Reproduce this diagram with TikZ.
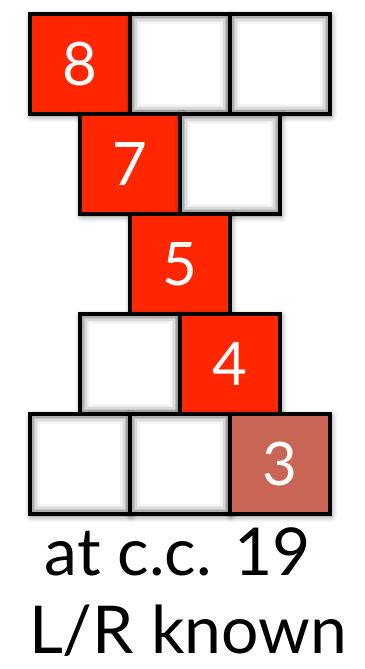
\documentclass[tikz,border=0pt]{standalone}
\usepackage{fontspec}
\setmainfont{Lato}
\usetikzlibrary{shadows.blur}
\definecolor{hotred}{RGB}{255,38,0}
\definecolor{dimred}{RGB}{200,101,85}
\tikzset{
  cell/.style={draw=black, line width=4.5pt, minimum width=100pt, minimum height=100pt,
    inner sep=0pt, outer sep=0pt, text=white, font=\fontsize{60}{60}\selectfont,
    blur shadow={shadow xshift=1pt, shadow yshift=-2pt, shadow blur radius=6pt, shadow opacity=55}},
  redcell/.style={cell, fill=hotred},
  dimcell/.style={cell, fill=dimred},
  blankcell/.style={cell, fill=white,
    path picture={
      \foreach \d/\c in {3/32,4.5/22,6/14,7.5/8,9/4}{
        \draw[black!\c, line width=1.6pt]
          ([shift={(\d pt,\d pt)}]path picture bounding box.south west) rectangle
          ([shift={(-\d pt,-\d pt)}]path picture bounding box.north east);}
    }},
  caption/.style={anchor=base, font=\fontsize{66}{66}\selectfont, inner sep=0pt}
}
\begin{document}
\begin{tikzpicture}[x=1pt,y=1pt]
\useasboundingbox (0,0) rectangle (364,-669);
% row 1
\node[redcell]   (r1a) at (80,-64)  {8};
\node[blankcell] (r1b) at (180,-64) {};
\node[blankcell] (r1c) at (280,-64) {};
% row 2
\node[redcell]   (r2a) at (130,-164) {7};
\node[blankcell] (r2b) at (230,-164) {};
% row 3
\node[redcell]   (r3a) at (180,-264) {5};
% row 4
\node[blankcell] (r4a) at (130,-364) {};
\node[redcell]   (r4b) at (230,-364) {4};
% row 5
\node[blankcell] (r5a) at (80,-464)  {};
\node[blankcell] (r5b) at (180,-464) {};
\node[dimcell]   (r5c) at (280,-464) {3};
% captions
\node[caption] (cap1) at (178,-575) {at c.c. 19};
\node[caption] (cap2) at (188,-653) {L/R known};
\end{tikzpicture}
\end{document}
